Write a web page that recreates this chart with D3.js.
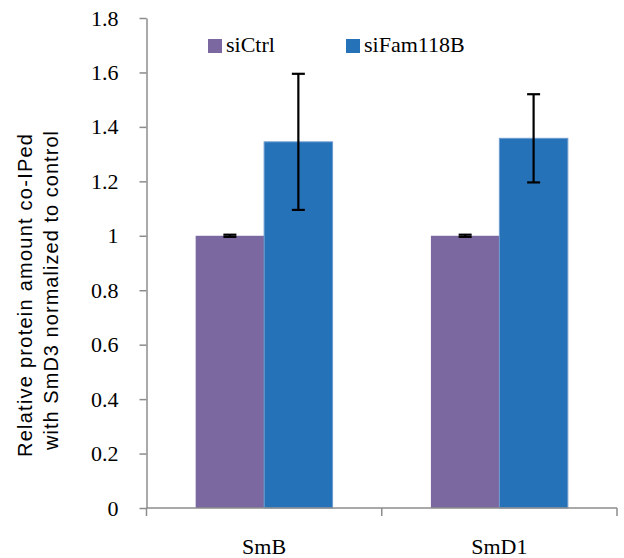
<!DOCTYPE html>
<html>
<head>
<meta charset="utf-8">
<script src="https://cdn.jsdelivr.net/npm/d3@7"></script>
<style>
  body { margin: 0; background: #fff; }
</style>
</head>
<body>
<div id="chart"></div>
<script>
// data
let categories = ["SmB", "SmD1"];
let seriesNames = ["siCtrl", "siFam118B"];
let ctrlValues = [1.0, 1.0];
let ctrlErrors = [0.004, 0.004];
let famValues = [1.345, 1.358];
let famErrors = [0.25, 0.162];
let yTicks = [0, 0.2, 0.4, 0.6, 0.8, 1, 1.2, 1.4, 1.6, 1.8];

let colors = ["#7B68A0", "#2572B8"];
let serif = "'Liberation Serif', 'Times New Roman', serif";
let sans = "'Liberation Sans', Arial, sans-serif";

let svgWidth = 624;
let svgHeight = 558;

let margin = { top: 18, right: 7, bottom: 50, left: 146.5 };
let chartWidth = svgWidth - margin.left - margin.right;
let chartHeight = 508 - margin.top;

let svg = d3.select("#chart")
    .append("svg")
    .attr("width", svgWidth)
    .attr("height", svgHeight);

let chartGroup = svg.append("g")
    .attr("transform", `translate(${margin.left}, ${margin.top})`);

// build rows
let rows = categories.map((c, i) => ({
    cat: c,
    vals: [
        { s: 0, v: ctrlValues[i], e: ctrlErrors[i] },
        { s: 1, v: famValues[i], e: famErrors[i] }
    ]
}));

let xScale = d3.scaleBand()
    .domain(categories)
    .range([0, chartWidth])
    .paddingInner(0.418)
    .paddingOuter(0.209);

let xSub = d3.scaleBand()
    .domain([0, 1])
    .range([0, xScale.bandwidth()]);

let yScale = d3.scaleLinear()
    .domain([0, 1.8])
    .range([chartHeight, 0]);

// bars
let groups = chartGroup.selectAll(".cat")
    .data(rows)
    .enter()
    .append("g")
    .attr("transform", d => `translate(${xScale(d.cat)}, 0)`);

groups.selectAll("rect")
    .data(d => d.vals)
    .enter()
    .append("rect")
    .attr("x", d => xSub(d.s))
    .attr("y", d => yScale(d.v))
    .attr("width", xSub.bandwidth())
    .attr("height", d => chartHeight - yScale(d.v))
    .attr("fill", d => colors[d.s])
    .attr("stroke", d => d.s === 1 ? "#6C9BCF" : "none")
    .attr("stroke-width", 1);

// error bars
let errs = groups.selectAll(".err")
    .data(d => d.vals)
    .enter()
    .append("g")
    .attr("stroke", "#000")
    .attr("stroke-width", 2.2);

let capW = 6.5;
errs.append("line")
    .attr("x1", d => xSub(d.s) + xSub.bandwidth() / 2)
    .attr("x2", d => xSub(d.s) + xSub.bandwidth() / 2)
    .attr("y1", d => yScale(d.v - d.e))
    .attr("y2", d => yScale(d.v + d.e));
errs.append("line")
    .attr("x1", d => xSub(d.s) + xSub.bandwidth() / 2 - capW)
    .attr("x2", d => xSub(d.s) + xSub.bandwidth() / 2 + capW)
    .attr("y1", d => yScale(d.v + d.e))
    .attr("y2", d => yScale(d.v + d.e));
errs.append("line")
    .attr("x1", d => xSub(d.s) + xSub.bandwidth() / 2 - capW)
    .attr("x2", d => xSub(d.s) + xSub.bandwidth() / 2 + capW)
    .attr("y1", d => yScale(d.v - d.e))
    .attr("y2", d => yScale(d.v - d.e));

// y axis
let leftAxis = d3.axisLeft(yScale)
    .tickValues(yTicks)
    .tickFormat(d => d === 0 || d === 1 ? d3.format("d")(d) : d3.format(".1f")(d))
    .tickSize(7)
    .tickPadding(21)
    .tickSizeOuter(0);

let yAxisG = chartGroup.append("g").call(leftAxis);
yAxisG.attr("font-family", serif).attr("font-size", 22);
yAxisG.select(".domain").attr("stroke", "#8c8c8c").attr("stroke-width", 1.5);
yAxisG.selectAll(".tick line").attr("stroke", "#8c8c8c").attr("stroke-width", 1.5);
yAxisG.selectAll(".tick text")
    .attr("fill", "#000");

// x axis line with ticks between categories
let xAxisG = chartGroup.append("g")
    .attr("transform", `translate(0, ${chartHeight})`);
xAxisG.append("line")
    .attr("x1", 0).attr("x2", chartWidth)
    .attr("y1", 0).attr("y2", 0)
    .attr("stroke", "#8c8c8c").attr("stroke-width", 1.5);
let boundaries = [0].concat(categories.map(c => xScale(c) + xScale.bandwidth() + xScale.step() * xScale.paddingInner() / 2));
boundaries[boundaries.length - 1] = chartWidth;
xAxisG.selectAll(".bt")
    .data(boundaries)
    .enter()
    .append("line")
    .attr("x1", d => d).attr("x2", d => d)
    .attr("y1", 0).attr("y2", 8)
    .attr("stroke", "#8c8c8c").attr("stroke-width", 1.5);
xAxisG.selectAll(".xl")
    .data(categories)
    .enter()
    .append("text")
    .attr("x", d => xScale(d) + xScale.bandwidth() / 2)
    .attr("y", 46)
    .attr("text-anchor", "middle")
    .attr("font-family", serif)
    .attr("font-size", 22)
    .text(d => d);

// y axis title
let yTitle = svg.append("text")
    .attr("transform", `translate(0, 0) rotate(-90)`)
    .attr("text-anchor", "middle")
    .style("font-family", sans)
    .style("font-size", "20px");
yTitle.append("tspan").attr("x", -295.5).attr("y", 32)
    .attr("textLength", 323).attr("lengthAdjust", "spacing")
    .text("Relative protein amount co-IPed");
yTitle.append("tspan").attr("x", -290.5).attr("y", 58)
    .attr("textLength", 319).attr("lengthAdjust", "spacing")
    .text("with SmD3 normalized to control");

// legend
let legendX = [208, 346];
let legend = svg.selectAll(".legend")
    .data(seriesNames)
    .enter()
    .append("g")
    .attr("transform", (d, i) => `translate(${legendX[i]}, 39)`);
legend.append("rect")
    .attr("width", 14)
    .attr("height", 14)
    .attr("fill", (d, i) => colors[i]);
legend.append("text")
    .attr("x", 18)
    .attr("y", 13)
    .attr("font-family", serif)
    .attr("font-size", 22)
    .text(d => d);
</script>
</body>
</html>
